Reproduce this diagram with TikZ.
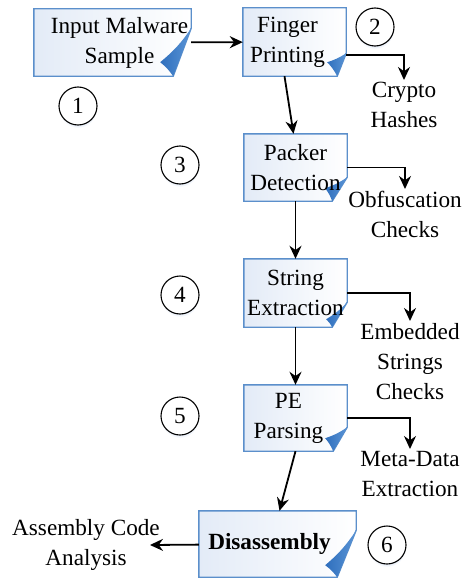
\documentclass[tikz,border=0pt]{standalone}
\usepackage{fontspec}
\setmainfont{Liberation Serif}
\usepackage{tikz}
\usetikzlibrary{arrows.meta,positioning,backgrounds,shadows}
\definecolor{edge}{HTML}{5B8FCB}
\definecolor{fold}{HTML}{2F6FBD}
\definecolor{foldlt}{HTML}{5B95D6}
\definecolor{tint}{HTML}{E3EBF7}

\begin{document}
\begin{tikzpicture}[
  x=1pt, y=-1pt,
  font=\fontsize{23.2}{30}\selectfont,
  stage/.style={inner sep=0pt, align=center, minimum width=103pt, minimum height=67pt},
  wide/.style={stage, minimum width=157pt},
  outlabel/.style={inner sep=2pt, align=center, anchor=north},
  stepno/.style={circle, draw, line width=1.1pt, minimum size=38pt, inner sep=0pt, fill=white,
    circular drop shadow={shadow xshift=0pt, shadow yshift=-3pt, shadow scale=1, fill=tint, opacity=0.8}},
  flow/.style={-{Stealth[length=13pt,width=12pt]}, line width=1.8pt}
]
\useasboundingbox (0,0) rectangle (464,578);

% analysis stages
\node[wide] (inp) at (112.5,42.5) {\hspace*{14pt}Input Malware\\\hspace*{14pt}Sample};
\node[stage, minimum height=68pt] (fp) at (294.5,42) {Finger\hspace*{14pt}\\Printing\hspace*{14pt}};
\node[stage] (pack) at (295.5,167.5) {Packer\\Detection};
\node[stage, minimum height=68pt] (str) at (295.5,293) {String\\Extraction};
\node[stage, minimum height=66pt] (pe) at (295.5,418) {PE\hspace*{14pt}\\Parsing\hspace*{14pt}};
\node[wide, minimum height=66pt, font=\fontsize{23.2}{30}\selectfont\bfseries] (dis) at (277.5,544) {Disassembly\hspace*{16pt}};

% outputs
\node[outlabel] (hash) at (404,80) {Crypto\\Hashes};
\node[outlabel] (obf) at (405,189) {Obfuscation\\Checks};
\node[outlabel] (emb) at (410,321) {Embedded\\Strings\\Checks};
\node[outlabel] (meta) at (410,449) {Meta-Data\\Extraction};
\node[inner sep=0pt, align=center] (asm) at (86,545) {Assembly Code\\Analysis};

% step numbers
\node[stepno] (n1) at (78,106) {1};
\node[stepno] (n2) at (375,27) {2};
\node[stepno] (n3) at (180,165) {3};
\node[stepno] (n4) at (180,295) {4};
\node[stepno] (n5) at (180,416) {5};
\node[stepno] (n6) at (387,545) {6};

% folded boxes
\begin{scope}[on background layer]
\foreach \n/\fx/\fy/\tx/\ty in {inp/18/48/31/14, fp/9/23/19/14, pack/15/24/22/13,
    str/15/25/21/8, pe/14/24/22/13, dis/19/47/31/12} {
  \draw[edge, line width=1.4pt, left color=tint, right color=white]
    (\n.north west) -- (\n.north east) -- ([yshift=\fy pt]\n.south east)
    -- ([xshift=-\fx pt]\n.south east) -- (\n.south west) -- cycle;
  \shade[left color=fold, right color=foldlt]
    ([yshift=\fy pt]\n.south east) to[bend left=8] ([xshift=-\tx pt, yshift=\ty pt]\n.south east)
    to[bend left=8] ([xshift=-\fx pt]\n.south east) -- cycle;
}
\end{scope}

\draw[flow] (inp) -- (fp);
\draw[flow] ([xshift=-10pt]fp.south) -- ([xshift=-2pt]pack.north);
\draw[flow] (pack) -- (str);
\draw[flow] (str) -- (pe);
\draw[flow] (pe.south) -- ([xshift=2pt]dis.north);
\draw[flow] (dis) -- ([xshift=-10pt]asm.east);
\draw[flow] ([yshift=-13pt]fp.east) -| (hash);
\draw[flow] (pack.east) -| (obf);
\draw[flow] (str.east) -| (emb);
\draw[flow] (pe.east) -| (meta);
\end{tikzpicture}
\end{document}
